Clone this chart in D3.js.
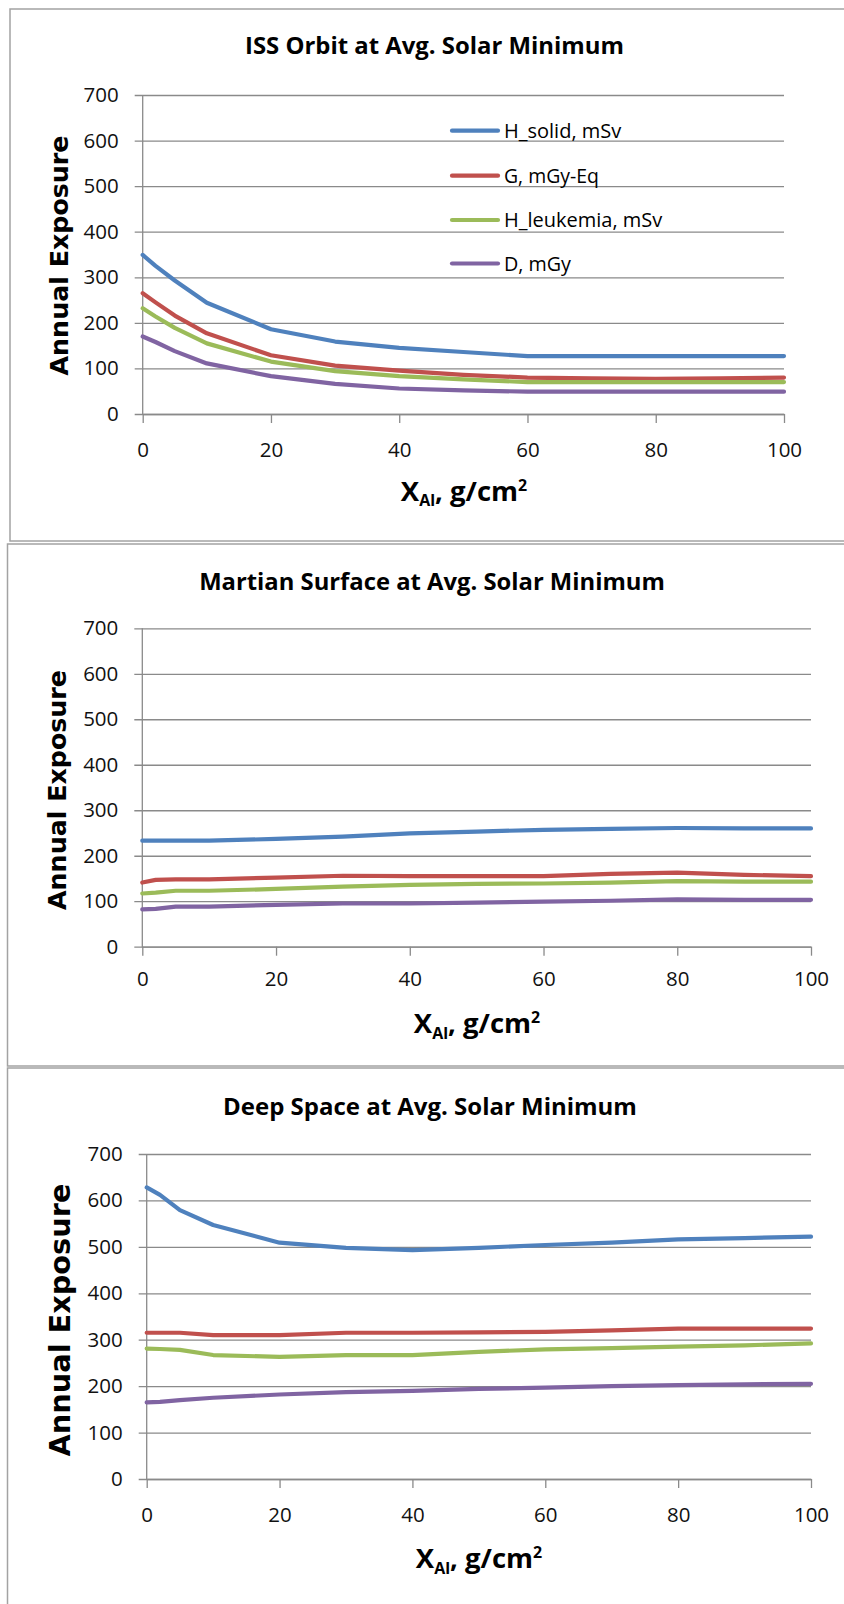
<!DOCTYPE html>
<html><head><meta charset="utf-8">
<script src="https://cdn.jsdelivr.net/npm/d3@7"></script>
<style>
html,body{margin:0;padding:0;background:#fff;}
svg{display:block;}
</style></head><body>
<svg id="chart" width="844" height="1604"></svg>
<script>
// ---------- data ----------
const xValues = [0, 2, 5, 10, 20, 30, 40, 50, 60, 70, 80, 90, 100];
const seriesNames = ["H_solid, mSv", "G, mGy-Eq", "H_leukemia, mSv", "D, mGy"];
const seriesColors = ["#4F81BD", "#C0504D", "#9BBB59", "#8064A2"];
const yTicks = [0, 100, 200, 300, 400, 500, 600, 700];
const xTicks = [0, 20, 40, 60, 80, 100];
const chartTitles = ["ISS Orbit at Avg. Solar Minimum", "Martian Surface at Avg. Solar Minimum", "Deep Space at Avg. Solar Minimum"];
const yAxisTitle = "Annual Exposure";

const issHsolid    = [349, 325, 293, 244, 186, 159, 145, 136, 127, 127, 127, 127, 127];
const issG         = [265, 245, 216, 177, 129, 106, 95, 86, 80, 78, 77, 78, 80];
const issHleukemia = [232, 214, 189, 155, 115, 94, 83, 76, 70, 70, 70, 70, 70];
const issD         = [170, 158, 138, 111, 83, 66, 56, 52, 49, 49, 49, 49, 49];

const marsHsolid    = [233, 233, 233, 233, 237, 242, 249, 253, 257, 259, 261, 260, 260];
const marsG         = [141, 147, 148, 148, 152, 156, 155, 155, 155, 160, 163, 158, 155];
const marsHleukemia = [117, 119, 123, 123, 127, 132, 136, 138, 139, 141, 144, 143, 143];
const marsD         = [82, 83, 88, 88, 92, 95, 95, 97, 99, 101, 104, 103, 103];

const deepHsolid    = [628, 612, 579, 547, 509, 498, 493, 498, 504, 509, 516, 519, 522];
const deepG         = [315, 315, 315, 310, 310, 315, 315, 316, 317, 320, 324, 324, 324];
const deepHleukemia = [281, 280, 278, 267, 263, 267, 267, 274, 279, 282, 285, 288, 292];
const deepD         = [165, 166, 170, 175, 182, 187, 190, 194, 197, 200, 202, 204, 205];

const panelSeries = [
  [issHsolid, issG, issHleukemia, issD],
  [marsHsolid, marsG, marsHleukemia, marsD],
  [deepHsolid, deepG, deepHleukemia, deepD]
];

// ---------- layout ----------
const layout = [
  {left:10, top:9, bottom:541, titleCX:434.5, titleBase:53.5, titleW:379,
   x0:142.7, x1:784, yB:414, yT:95, xLabCY:449.5, xTitleCX:464, xTitleBase:500.7, xTitleW:132,
   yTitleX:67.5, yTitleCY:255.5, yTitleLen:240, legend:true},
  {left:7.5, top:544, bottom:1066, titleCX:432, titleBase:589.5, titleW:466,
   x0:142.3, x1:811, yB:946.7, yT:628.3, xLabCY:979, xTitleCX:477, xTitleBase:1033, xTitleW:132,
   yTitleX:66, yTitleCY:790, yTitleLen:240, legend:false},
  {left:7.5, top:1068, bottom:1640, titleCX:430, titleBase:1115, titleW:414,
   x0:146.7, x1:811, yB:1479, yT:1154, xLabCY:1515, xTitleCX:479, xTitleBase:1568.3, xTitleW:132,
   yTitleX:70, yTitleCY:1320, yTitleLen:273, legend:false}
];

const titleFont = '"Open Sans", sans-serif';
const tickFont = '"Open Sans", sans-serif';
const yTitleFont = '"DejaVu Sans", Verdana, sans-serif';
const gridColor = "#8a8a8a";

const svg = d3.select("#chart");

function fitFont(sel, target) {
  const fs = parseFloat(sel.attr("font-size"));
  const w = sel.node().getComputedTextLength();
  sel.attr("font-size", fs * target / w);
}
// horizontally condense a text (inside group g placed at cx, base) to a target width
function squeeze(grp, textSel, cx, base, target) {
  const w = textSel.node().getComputedTextLength();
  const s = Math.min(1, target / w);
  grp.attr("transform", `translate(${cx},${base}) scale(${s},1)`);
}

layout.forEach((p, pi) => {
  const g = svg.append("g");
  g.append("rect")
    .attr("x", p.left).attr("y", p.top)
    .attr("width", 900).attr("height", p.bottom - p.top)
    .attr("fill", "#fff").attr("stroke", "#a3a3a3").attr("stroke-width", 1.5);

  const x = d3.scaleLinear().domain([0, 100]).range([p.x0, p.x1]);
  const y = d3.scaleLinear().domain([0, 700]).range([p.yB, p.yT]);
  const tickLen = 8;

  const grid = g.append("g").attr("transform", `translate(${p.x0 - tickLen},0)`)
    .call(d3.axisLeft(y).tickValues(yTicks).tickSize(-(p.x1 - p.x0 + tickLen)).tickFormat(""));
  grid.select(".domain").remove();
  grid.selectAll("line").attr("stroke", gridColor).attr("stroke-width", 1.3);

  const yl = g.append("g").attr("transform", `translate(${p.x0},0)`)
    .call(d3.axisLeft(y).tickValues(yTicks).tickSize(0).tickPadding(24));
  yl.select(".domain").remove();
  yl.selectAll("text").attr("font-family", tickFont).attr("font-size", 20.5).attr("fill", "#111");

  g.append("line").attr("x1", p.x0).attr("x2", p.x0).attr("y1", p.yT).attr("y2", p.yB + 0.5)
    .attr("stroke", gridColor).attr("stroke-width", 1.3);

  const xa = g.append("g").attr("transform", `translate(0,${p.yB})`)
    .call(d3.axisBottom(x).tickValues(xTicks).tickSize(9).tickSizeOuter(0));
  xa.select(".domain").attr("stroke", gridColor).attr("stroke-width", 1.3);
  xa.selectAll("line").attr("stroke", gridColor).attr("stroke-width", 1.3);
  xa.selectAll("text").attr("font-family", tickFont).attr("font-size", 20.5).attr("fill", "#111")
    .attr("y", p.xLabCY - p.yB).attr("dy", "0.36em");

  const line = d3.line().x((d, i) => x(xValues[i])).y(d => y(d)).curve(d3.curveLinear);
  panelSeries[pi].forEach((vals, si) => {
    g.append("path").datum(vals).attr("d", line)
      .attr("fill", "none").attr("stroke", seriesColors[si]).attr("stroke-width", 4.2)
      .attr("stroke-linejoin", "round").attr("stroke-linecap", "round");
  });

  // chart title (condensed look)
  const tg = g.append("g");
  const t = tg.append("text").text(chartTitles[pi])
    .attr("x", 0).attr("y", 0).attr("text-anchor", "middle")
    .attr("font-family", titleFont).attr("font-weight", "bold").attr("font-size", 24).attr("fill", "#000");
  squeeze(tg, t, p.titleCX, p.titleBase, p.titleW);

  // y axis title
  const yt = g.append("text").text(yAxisTitle)
    .attr("transform", `translate(${p.yTitleX},${p.yTitleCY}) rotate(-90)`)
    .attr("text-anchor", "middle").attr("font-family", yTitleFont).attr("font-weight", "bold")
    .attr("font-size", 24).attr("fill", "#000");
  fitFont(yt, p.yTitleLen);

  // x axis title: X_Al, g/cm^2
  const F = 27.5;
  const xg = g.append("g");
  const tx = xg.append("text").attr("x", 0).attr("y", 0)
    .attr("text-anchor", "middle").attr("font-family", titleFont).attr("font-weight", "bold")
    .attr("font-size", F).attr("fill", "#000");
  tx.append("tspan").text("X");
  tx.append("tspan").text("Al").attr("font-size", F * 0.58).attr("dy", F * 0.2);
  tx.append("tspan").text(", g/cm").attr("dy", -F * 0.2);
  tx.append("tspan").text("2").attr("font-size", F * 0.58).attr("dy", -F * 0.36);
  squeeze(xg, tx, p.xTitleCX, p.xTitleBase, p.xTitleW);

  if (p.legend) {
    const legY = [130.7, 175.7, 220, 263.5];
    seriesNames.forEach((name, si) => {
      g.append("line").attr("x1", 452).attr("x2", 498).attr("y1", legY[si]).attr("y2", legY[si])
        .attr("stroke", seriesColors[si]).attr("stroke-width", 4.2).attr("stroke-linecap", "round");
      const lt = g.append("g");
      const tt = lt.append("text").text(name).attr("x", 0).attr("y", 0)
        .attr("font-family", tickFont).attr("font-size", 20).attr("fill", "#000");
      const w = tt.node().getComputedTextLength();
      lt.attr("transform", `translate(504,${legY[si] + 7}) scale(${Math.min(1, [119, 95, 161, 67][si] / w)},1)`);
    });
  }
});
</script>
</body></html>
